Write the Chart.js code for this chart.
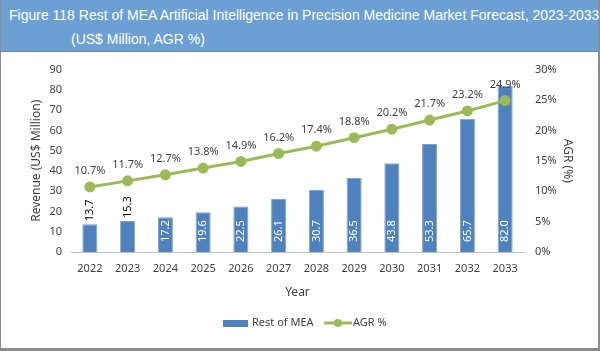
<!DOCTYPE html>
<html>
<head>
<meta charset="utf-8">
<script src="https://cdn.jsdelivr.net/npm/chart.js@4.4.1/dist/chart.umd.min.js"></script>
<style>
  body { margin: 0; background: #fff; }
  #wrap { width: 600px; height: 351px; box-sizing: border-box; border-left: 1px solid #8c8c8c; border-right: 2px solid #8c8c8c; border-bottom: 3px solid #8c8c8c; position: relative; }
  #title { height: 52px; background: #6c9fd3; color: #fff; font-family: "Liberation Sans", Arial, sans-serif; font-size: 14px; border-bottom: 1px solid #5f8ab8; box-sizing: border-box; }
  #title div { position: absolute; white-space: nowrap; }
  #box { position: absolute; left: 0; top: 52px; width: 597px; height: 296px; }
</style>
</head>
<body>
<div id="wrap">
  <div id="title">
    <div style="left:8px;top:7px;">Figure 118 Rest of MEA Artificial Intelligence in Precision Medicine Market Forecast, 2023-2033</div>
    <div style="left:70px;top:31px;">(US$ Million, AGR %)</div>
  </div>
  <div id="box"><canvas id="chart" width="597" height="296"></canvas></div>
</div>
<script>
// values
const years = ['2022','2023','2024','2025','2026','2027','2028','2029','2030','2031','2032','2033'];
const revenue = [13.7, 15.3, 17.2, 19.6, 22.5, 26.1, 30.7, 36.5, 43.8, 53.3, 65.7, 82.0];
const agr = [10.7, 11.7, 12.7, 13.8, 14.9, 16.2, 17.4, 18.8, 20.2, 21.7, 23.2, 24.9];

const barBlue = '#4f81bd';
const lineGreen = '#9bbb59';
const txtFont = '11px "Noto Sans", sans-serif';

// labels on bars and points, plus a hand drawn legend
const labelPlugin = {
    id: 'labels',
    afterDatasetsDraw(chart) {
        const ctx = chart.ctx;
        ctx.save();
        ctx.font = txtFont;
        // bars: rotated text
        chart.getDatasetMeta(0).data.forEach(function(bar, i) {
            const txt = revenue[i].toFixed(1);
            const w = ctx.measureText(txt).width;
            const h = bar.base - bar.y;
            ctx.save();
            ctx.translate(bar.x, 0);
            ctx.rotate(-Math.PI / 2);
            ctx.textBaseline = 'middle';
            ctx.textAlign = 'left';
            if (h >= w + 10) {
                ctx.fillStyle = '#fff';
                ctx.fillText(txt, -(bar.base - 10), 0);
            } else {
                ctx.fillStyle = '#000';
                ctx.fillText(txt, -(bar.y - 3), 0);
            }
            ctx.restore();
        });
        // line points
        ctx.fillStyle = '#404040';
        ctx.textAlign = 'center';
        ctx.textBaseline = 'middle';
        chart.getDatasetMeta(1).data.forEach(function(pt, i) {
            ctx.fillText(agr[i].toFixed(1) + '%', pt.x, pt.y - 16);
        });
        ctx.restore();
    },
    afterDraw(chart) {
        const ctx = chart.ctx;
        const y = 271;
        ctx.save();
        ctx.font = txtFont;
        ctx.textBaseline = 'middle';
        ctx.fillStyle = barBlue;
        ctx.fillRect(222, y - 3, 25, 7);
        ctx.fillStyle = '#404040';
        ctx.fillText('Rest of MEA', 251, y);
        ctx.strokeStyle = lineGreen;
        ctx.lineWidth = 3;
        ctx.beginPath();
        ctx.moveTo(323, y);
        ctx.lineTo(351, y);
        ctx.stroke();
        ctx.fillStyle = lineGreen;
        ctx.beginPath();
        ctx.arc(337, y, 4, 0, Math.PI * 2);
        ctx.fill();
        ctx.fillStyle = '#404040';
        ctx.fillText('AGR %', 352, y);
        ctx.restore();
    }
};

new Chart(document.getElementById('chart'), {
    data: {
        labels: years,
        datasets: [{
            type: 'bar',
            label: 'Rest of MEA',
            data: revenue,
            yAxisID: 'y',
            backgroundColor: barBlue,
            borderColor: '#7ea2d0',
            borderWidth: 1,
            categoryPercentage: 1,
            barPercentage: 0.4,
            order: 2
        }, {
            type: 'line',
            label: 'AGR %',
            data: agr,
            yAxisID: 'y1',
            borderColor: lineGreen,
            backgroundColor: lineGreen,
            borderWidth: 3,
            pointRadius: 4,
            pointHoverRadius: 4,
            order: 1
        }]
    },
    options: {
        responsive: false,
        animation: false,
        events: [],
        layout: { padding: { top: 16, bottom: 48, left: 0, right: 0 } },
        plugins: { legend: { display: false }, tooltip: { enabled: false } },
        scales: {
            x: {
                grid: { display: false, drawTicks: false },
                border: { color: '#bfbfbf' },
                ticks: { color: '#404040', font: { family: 'Noto Sans', size: 11 }, padding: 10 },
                title: { display: true, text: 'Year', color: '#404040', font: { family: 'Noto Sans', size: 12 }, padding: { top: 3, bottom: 0 } },
                afterFit: function(s) { s.height = 48; }
            },
            y: {
                position: 'left',
                min: 0, max: 90,
                grid: { display: false, drawTicks: false },
                border: { display: false },
                ticks: { stepSize: 10, color: '#404040', font: { family: 'Noto Sans', size: 11 }, padding: 9 },
                title: { display: true, text: 'Revenue (US$ Million)', color: '#404040', font: { family: 'Noto Sans', size: 12 }, padding: { top: 28, bottom: 0 } },
                afterFit: function(s) { s.width = 70; }
            },
            y1: {
                position: 'right',
                min: 0, max: 30,
                grid: { display: false, drawTicks: false },
                border: { display: false },
                ticks: { stepSize: 5, color: '#404040', font: { family: 'Noto Sans', size: 11 }, padding: 11,
                    callback: function(v) { return v + '%'; } },
                title: { display: true, text: 'AGR (%)', color: '#404040', font: { family: 'Noto Sans', size: 12 }, padding: { top: 23, bottom: 0 } },
                afterFit: function(s) { s.width = 74; }
            }
        }
    },
    plugins: [labelPlugin]
});
</script>
</body>
</html>
